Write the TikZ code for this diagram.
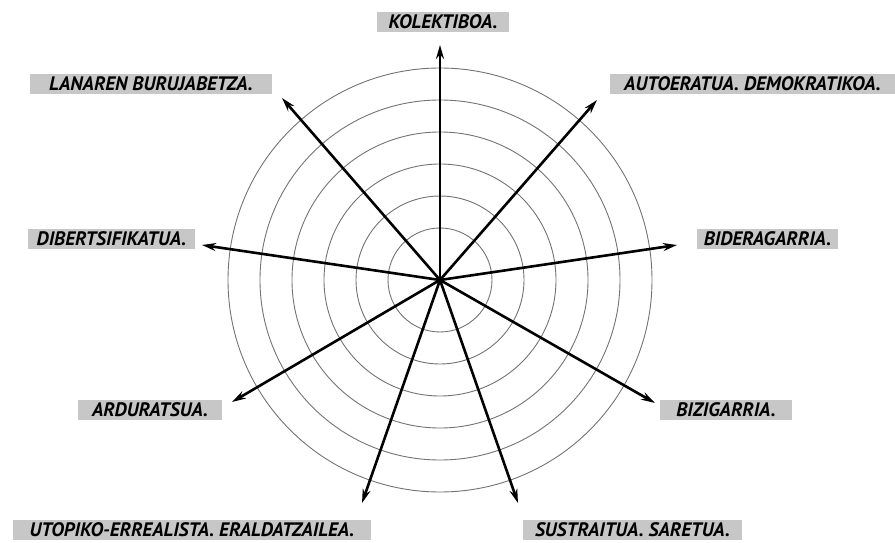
\documentclass[tikz,border=0pt]{standalone}
\usepackage{fontspec}
\setmainfont{PT Sans}
\usetikzlibrary{arrows.meta}
\tikzstyle{ring}=[draw=black!55,line width=0.9pt]
\tikzstyle{spoke}=[draw,line width=2.6pt,-{Stealth[length=14pt,width=8pt]}]
\tikzstyle{tag}=[fill=black!22,inner sep=0pt,minimum height=20pt,font=\fontsize{19.5}{19.5}\selectfont\bfseries\itshape]

\begin{document}
\begin{tikzpicture}[x=1pt,y=1pt]

    \useasboundingbox (0,0) rectangle (895,542);
    \coordinate (o) at (440,262);

    \foreach \r in {52,84,...,212}
        \path[ring] (o) circle (\r);

    \foreach \x/\y/\name in {440/497/kol, 597/442/aut, 677/297/bid, 655/139/biz, 518/39/sus,
                             362/39/uto, 232/140/ard, 202/297/dib, 282/444/lan}
        \coordinate (\name) at (\x,\y);

    \foreach \dest in {kol,aut,bid,biz,sus,uto,ard,dib,lan}
        \path[spoke] (o) -- (\dest);

    \foreach \x/\y/\w/\name/\txt in {443/520/132/tkol/{KOLEKTIBOA.},
                                     151/458/242/tlan/{LANAREN BURUJABETZA.},
                                     752.5/458/285/taut/{AUTOERATUA. DEMOKRATIKOA.},
                                     767.5/303/141/tbid/{BIDERAGARRIA.},
                                     111.5/303/167/tdib/{DIBERTSIFIKATUA.},
                                     726/132/132/tbiz/{BIZIGARRIA.},
                                     150/132/144/tard/{ARDURATSUA.},
                                     192/12.5/358/tuto/{UTOPIKO-ERREALISTA. ERALDATZAILEA.},
                                     632.5/12.5/219/tsus/{SUSTRAITUA. SARETUA.}}
        \node[tag, minimum width=\w pt] (\name) at (\x,\y) {\txt};

\end{tikzpicture}
\end{document}
